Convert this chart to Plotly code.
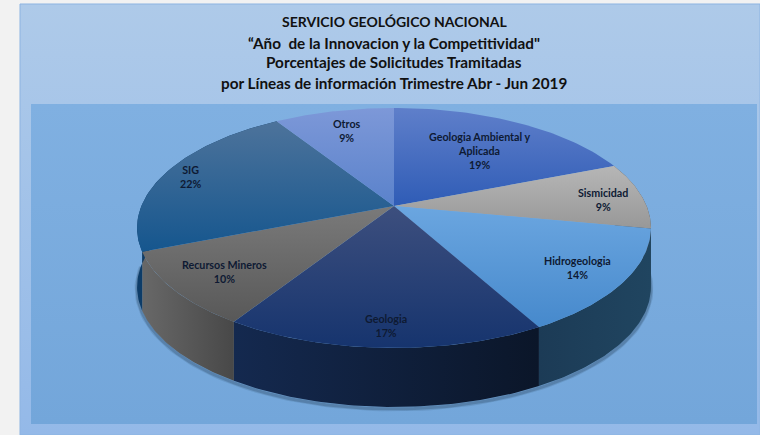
import numpy as np
import plotly.graph_objects as go

# ---- data ----
categories = ["Geologia Ambiental y<br>Aplicada", "Sismicidad", "Hidrogeologia", "Geologia",
              "Recursos Mineros", "SIG", "Otros"]
percent = [19, 9, 14, 17, 10, 22, 9]
title_lines = ["SERVICIO GEOLÓGICO NACIONAL",
               "“Año  de la Innovacion y la Competitividad\"",
               "Porcentajes de Solicitudes Tramitadas",
               "por Líneas de información Trimestre Abr - Jun 2019"]

# ---- styles ----
top_colors = [("#5f7fca", "#2f5cb6"), ("#b6b6b6", "#989898"), ("#6ba6e0", "#4689cc"),
              ("#3d4f7e", "#16346e"), ("#7a7a7a", "#585858"), ("#4d739b", "#15568e"),
              ("#7d98d8", "#5a82cb")]
wall_colors = [("#1b3f63", "#1b3f63"), ("#5a5a5a", "#4a4a4a"), ("#1c3b56", "#204560"),
               ("#14294f", "#0b1629"), ("#686868", "#484848"), ("#0d3c68", "#0d3c68"),
               ("#1b3f63", "#1b3f63")]
label_xy = [(480, 150), (603, 199), (577, 267), (386, 325), (224, 271), (190, 176), (347, 130)]
title_y = [21, 43, 62, 83]
title_size = [14, 15.3, 15.3, 15.3]

# ---- projection of the tilted disc ----
CX, CY, A, K, P, DEPTH = 394, 206, 252.6, 116, 0.183, 59


def project(theta, drop=0.0):
    u, v = np.sin(theta), np.cos(theta)
    w = 1 + P * v
    return CX + A * u / w, CY - K * v / w + drop


def vgrad(top, bottom):
    # the y axis is reversed, so the colorscale runs bottom to top on screen
    return dict(type="vertical", colorscale=[[0, bottom], [1, top]])


fig = go.Figure()

# chart area and plot area
fig.add_trace(go.Scatter(x=[20, 760, 760, 20, 20], y=[4, 4, 435, 435, 4], mode="lines", fill="toself",
                         line=dict(color="#8db4e2", width=1), hoverinfo="skip",
                         fillgradient=vgrad("#aecae9", "#94b9e8")))
fig.add_trace(go.Scatter(x=[31, 757, 757, 31, 31], y=[104, 104, 424, 424, 104], mode="lines", fill="toself",
                         line=dict(width=0), hoverinfo="skip",
                         fillgradient=vgrad("#80b0e1", "#73a6da")))

edges = np.cumsum([0] + percent) / sum(percent) * 2 * np.pi

# soft shadow under the wall
sh = np.linspace(np.pi / 2, 3 * np.pi / 2, 120)
sx, sy = project(sh, DEPTH + 2)
for wd, al in ((5, 0.12), (3, 0.2)):
    fig.add_trace(go.Scatter(x=sx, y=sy, mode="lines", hoverinfo="skip",
                             line=dict(color=f"rgba(20,40,60,{al})", width=wd)))

# walls
for i, (name, val) in enumerate(zip(categories, percent)):
    t = np.linspace(edges[i], edges[i + 1], 60)
    x1, y1 = project(t)
    x2, y2 = project(t[::-1], DEPTH)
    c1, c2 = wall_colors[i]
    if np.all(np.cos(t) > 0.3):
        continue
    fig.add_trace(go.Scatter(x=np.r_[x1, x2], y=np.r_[y1, y2], mode="lines", fill="toself",
                             line=dict(width=0), hoverinfo="skip",
                             fillgradient=dict(type="horizontal", colorscale=[[0, c1], [1, c2]])))

# top faces
for i, (name, val) in enumerate(zip(categories, percent)):
    t = np.linspace(edges[i], edges[i + 1], 60)
    x, y = project(t)
    c1, c2 = top_colors[i]
    fig.add_trace(go.Scatter(x=np.r_[CX, x, CX], y=np.r_[CY, y, CY], mode="lines", fill="toself",
                             line=dict(width=0), name=name.replace("<br>", " "),
                             text=f"{val}%", hoverinfo="name+text",
                             fillgradient=vgrad(c1, c2)))

annotations = []
for name, val, (lx, ly) in zip(categories, percent, label_xy):
    annotations.append(dict(x=lx, y=ly, xref="x", yref="y", text=f"<b>{name}<br>{val}%</b>", showarrow=False,
                            font=dict(family="Lato", size=10.7, color="#0e1a33"), align="center"))
for line, ty, ts in zip(title_lines, title_y, title_size):
    annotations.append(dict(x=394, y=ty, xref="x", yref="y", text=f"<b>{line}</b>", showarrow=False,
                            font=dict(family="Lato", size=ts, color="#111111")))

fig.update_layout(width=760, height=435, autosize=False, margin=dict(l=0, r=0, t=0, b=0),
                  paper_bgcolor="#f2f2f2", plot_bgcolor="#f2f2f2", showlegend=False,
                  annotations=annotations,
                  xaxis=dict(range=[0, 760], visible=False, fixedrange=True),
                  yaxis=dict(range=[435, 0], visible=False, fixedrange=True))
fig.write_html("out.html", config=dict(displayModeBar=False),
               post_script="document.body.style.margin='0';document.body.style.overflow='hidden';")
